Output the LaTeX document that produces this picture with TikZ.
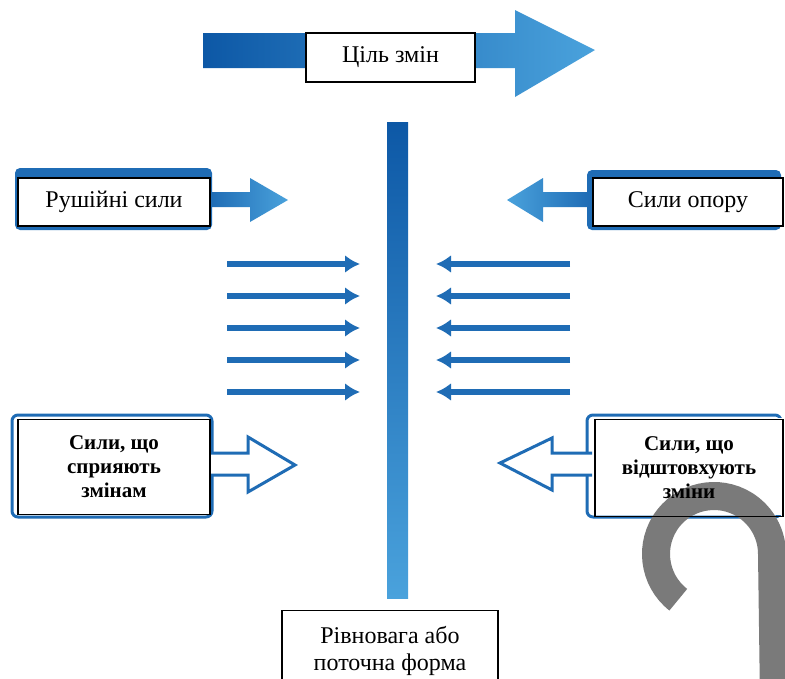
\documentclass[tikz,border=0pt]{standalone}
\usepackage{fontspec}
\setmainfont{Liberation Serif}
\usetikzlibrary{arrows.meta}
\definecolor{darkblue}{HTML}{0D58A6}
\definecolor{midblue}{HTML}{1F6CB5}
\definecolor{lightblue}{HTML}{4AA2DC}
\definecolor{hookgray}{HTML}{7A7A7A}
\tikzset{
	labelbox/.style={draw=black, fill=white, line width=1.1pt, inner sep=2pt, align=center, font=\fontsize{24}{27}\selectfont},
	forcebox/.style={draw=black, line width=1.1pt, inner sep=2pt, align=center, font=\bfseries\fontsize{21}{24}\selectfont},
	thinforce/.style={line width=6pt, color=midblue, -{Latex[length=15pt,width=18pt]}},
	hollowforce/.style={line width=3pt, color=midblue, fill=white, line join=miter}
}

\begin{document}
\begin{tikzpicture}[x=1pt, y=-1pt]
		%%%%% START %%%%%
		\clip (0, 0) rectangle (785, 678);
		\fill[white] (0, 0) rectangle (785, 678);
		
		% goal of change
		\shade[left color=darkblue, right color=lightblue] (203, 33) -- (515, 33) -- (515, 10) -- (595, 50) -- (515, 97) -- (515, 68) -- (203, 68) -- cycle;
		\node[labelbox, minimum width=169pt, minimum height=49pt] (goal) at (390.5, 57.5) {Ціль змін};
		
		% equilibrium bar
		\shade[top color=darkblue, bottom color=lightblue] (387, 122) rectangle (408, 598);
		
		% driving and restraining forces
		\fill[rounded corners=5pt, color=midblue] (15, 168) rectangle (212, 230);
		\shade[left color=midblue, right color=lightblue] (210, 192) -- (250, 192) -- (250, 178) -- (288, 200) -- (250, 222) -- (250, 207) -- (210, 207) -- cycle;
		\node[labelbox, minimum width=192pt, minimum height=48pt] (driving) at (114, 202) {Рушійні сили};
		
		\fill[rounded corners=5pt, color=midblue] (587, 170) rectangle (781, 230);
		\shade[left color=lightblue, right color=midblue] (590, 192) -- (543, 192) -- (543, 178) -- (507, 200) -- (543, 222) -- (543, 207) -- (590, 207) -- cycle;
		\node[labelbox, minimum width=190pt, minimum height=48pt] (restraining) at (688, 202) {Сили опору};
		
		\foreach \y in {264, 296, 328, 360, 392} {
			\draw[thinforce] (227, \y) -- (360, \y);
			\draw[thinforce] (570, \y) -- (436, \y);
		}
		
		% forces for and against change
		\draw[rounded corners=6pt, line width=3pt, color=midblue, fill=white] (12, 415) rectangle (212, 517);
		\draw[hollowforce] (205, 453) -- (248, 453) -- (248, 437) -- (295, 465) -- (248, 492) -- (248, 475) -- (205, 475);
		\node[forcebox, fill=white, minimum width=192pt, minimum height=95pt] (support) at (114, 467) {Сили, що\\сприяють\\змінам};
		
		\draw[rounded corners=6pt, line width=3pt, color=midblue, fill=white] (587, 415) rectangle (781, 517);
		\draw[hollowforce] (592, 453) -- (552, 453) -- (552, 438) -- (500, 463) -- (552, 490) -- (552, 475) -- (592, 475);
		\fill[white] (595, 418) rectangle (783, 515);
		\draw[line width=28pt, color=hookgray] (714, 554) ++(128:58) arc[start angle=128, end angle=360, radius=58] -- (774, 700);
		\node[forcebox, minimum width=188pt, minimum height=97pt] (oppose) at (689, 468) {Сили, що\\відштовхують\\зміни};
		
		% current state
		\node[labelbox, anchor=north, minimum width=216pt, minimum height=80pt] (state) at (390, 610) {Рівновага або\\поточна форма};
		
		%%%%% END %%%%%
\end{tikzpicture}
\end{document}
